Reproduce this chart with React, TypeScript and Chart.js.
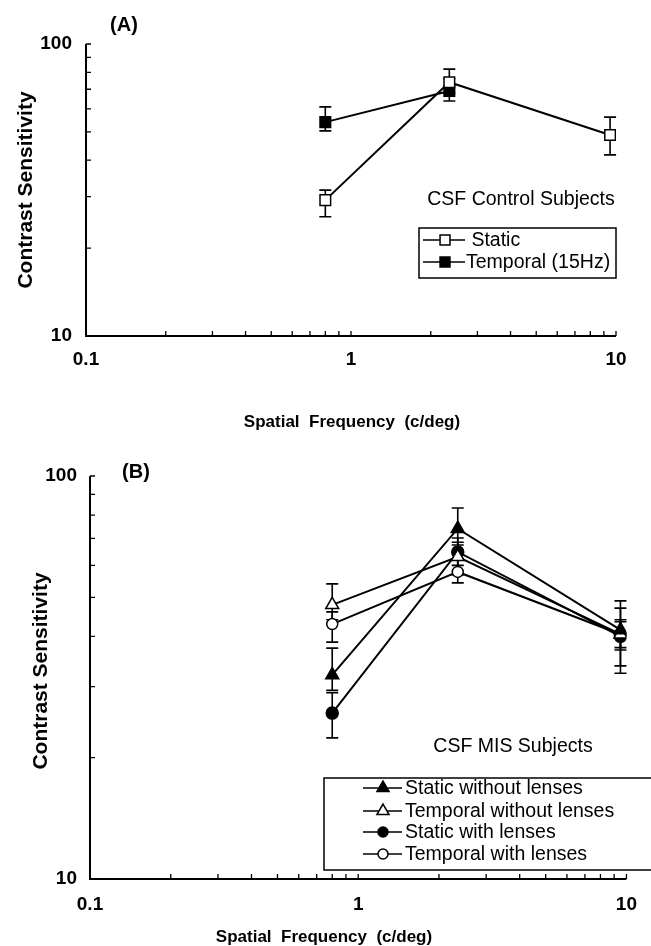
import React, { useEffect, useRef } from 'react';
import { Chart, registerables } from 'chart.js';

Chart.register(...registerables);

// ---------- data ----------
const X_TICKS = [0.1, 0.2, 0.3, 0.4, 0.5, 0.6, 0.7, 0.8, 0.9, 1, 2, 3, 4, 5, 6, 7, 8, 9, 10];
const Y_TICKS = [10, 20, 30, 40, 50, 60, 70, 80, 90, 100];
const X_TICK_VALUES = [0.1, 1, 10];
const X_TICK_LABELS = ['0.1', '1', '10'];
const Y_TICK_VALUES = [10, 100];
const Y_TICK_LABELS = ['10', '100'];

// Panel A – control subjects
const A_STATIC_FREQ = [0.8, 2.35, 9.5];
const A_STATIC_CS = [29.2, 74, 48.8];
const A_STATIC_LO = [25.6, 68, 41.7];
const A_STATIC_HI = [31.6, 82, 56.2];

const A_TEMPORAL_FREQ = [0.8, 2.35];
const A_TEMPORAL_CS = [54, 69];
const A_TEMPORAL_LO = [50.4, 63.8];
const A_TEMPORAL_HI = [60.9, 76];

// Panel B – MIS subjects
const B_FREQ = [0.8, 2.35, 9.5];
const B_STATIC_NO_CS = [32.1, 74, 41.5];
const B_STATIC_NO_LO = [29.4, 67.4, 33.8];
const B_STATIC_NO_HI = [37.4, 83.3, 49];
const B_TEMPORAL_NO_CS = [47.9, 63, 40.5];
const B_TEMPORAL_NO_LO = [44, 56.8, 37];
const B_TEMPORAL_NO_HI = [54, 68.5, 44];
const B_STATIC_WITH_CS = [25.8, 64.8, 40];
const B_STATIC_WITH_LO = [22.4, 60, 32.4];
const B_STATIC_WITH_HI = [29, 70.2, 47];
const B_TEMPORAL_WITH_CS = [42.9, 57.8, 40.5];
const B_TEMPORAL_WITH_LO = [38.7, 54.3, 37.5];
const B_TEMPORAL_WITH_HI = [46, 61.9, 43.5];

const A_LABELS = ['Static', 'Temporal (15Hz)'];
const B_LABELS = ['Static without lenses', 'Temporal without lenses', 'Static with lenses', 'Temporal with lenses'];

// ---------- styling ----------
const FONT = '"Liberation Sans", Arial, Helvetica, sans-serif';
const W = 651;

type Series = {
  label: string;
  x: number[];
  y: number[];
  lo: number[];
  hi: number[];
  style: 'rect' | 'triangle' | 'circle';
  filled: boolean;
  radius: number;
  legendPrefix?: string;
};

type Layout = {
  top: number;
  height: number;
  area: { left: number; top: number; right: number; bottom: number };
  panelLabel: string;
  panelLabelPos: [number, number];
  yTitlePos: [number, number];
  xTitlePos: [number, number];
  note: string;
  notePos: [number, number];
  legendBox: [number, number, number, number];
  legendRows: number[];
  legendLine: [number, number];
  legendMarkerX: number;
  legendTextX: number;
  xLabelPad: number;
  yLabelPad: number;
};

const seriesA: Series[] = [
  { label: A_LABELS[0], x: A_STATIC_FREQ, y: A_STATIC_CS, lo: A_STATIC_LO, hi: A_STATIC_HI, style: 'rect', filled: false, radius: 7.5, legendPrefix: ' ' },
  { label: A_LABELS[1], x: A_TEMPORAL_FREQ, y: A_TEMPORAL_CS, lo: A_TEMPORAL_LO, hi: A_TEMPORAL_HI, style: 'rect', filled: true, radius: 7.5 },
];

const seriesB: Series[] = [
  { label: B_LABELS[0], x: B_FREQ, y: B_STATIC_NO_CS, lo: B_STATIC_NO_LO, hi: B_STATIC_NO_HI, style: 'triangle', filled: true, radius: 7.5 },
  { label: B_LABELS[1], x: B_FREQ, y: B_TEMPORAL_NO_CS, lo: B_TEMPORAL_NO_LO, hi: B_TEMPORAL_NO_HI, style: 'triangle', filled: false, radius: 7.5 },
  { label: B_LABELS[2], x: B_FREQ, y: B_STATIC_WITH_CS, lo: B_STATIC_WITH_LO, hi: B_STATIC_WITH_HI, style: 'circle', filled: true, radius: 6 },
  { label: B_LABELS[3], x: B_FREQ, y: B_TEMPORAL_WITH_CS, lo: B_TEMPORAL_WITH_LO, hi: B_TEMPORAL_WITH_HI, style: 'circle', filled: false, radius: 5.5 },
];

const layoutA: Layout = {
  top: 0,
  height: 440,
  area: { left: 86, top: 44, right: 616, bottom: 336 },
  panelLabel: '(A)',
  panelLabelPos: [124, 25],
  yTitlePos: [26, 190],
  xTitlePos: [352, 422],
  note: 'CSF Control Subjects',
  notePos: [521, 200],
  legendBox: [419, 228, 197, 50],
  legendRows: [240, 262],
  legendLine: [423, 465],
  legendMarkerX: 445,
  legendTextX: 466,
  xLabelPad: 12,
  yLabelPad: 14,
};

const layoutB: Layout = {
  top: 440,
  height: 506,
  area: { left: 90, top: 36, right: 632, bottom: 439 },
  panelLabel: '(B)',
  panelLabelPos: [136, 32],
  yTitlePos: [41, 231],
  xTitlePos: [324, 497],
  note: 'CSF MIS Subjects',
  notePos: [513, 307],
  legendBox: [324, 338, 340, 92],
  legendRows: [348, 371, 392, 414],
  legendLine: [363, 402],
  legendMarkerX: 383,
  legendTextX: 405,
  xLabelPad: 14,
  yLabelPad: 13,
};

function labelFor(v: number, values: number[], labels: string[]) {
  for (let i = 0; i < values.length; i++) {
    if (Math.abs(Math.log10(v) - Math.log10(values[i])) < 1e-6) return labels[i];
  }
  return '';
}

function drawMarker(ctx: CanvasRenderingContext2D, style: string, x: number, y: number, r: number, filled: boolean) {
  ctx.save();
  ctx.beginPath();
  if (style === 'rect') {
    const s = Math.SQRT1_2 * r;
    ctx.rect(x - s, y - s, 2 * s, 2 * s);
  } else if (style === 'triangle') {
    let rad = 0;
    ctx.moveTo(x + Math.sin(rad) * r, y - Math.cos(rad) * r);
    rad += (2 * Math.PI) / 3;
    ctx.lineTo(x + Math.sin(rad) * r, y - Math.cos(rad) * r);
    rad += (2 * Math.PI) / 3;
    ctx.lineTo(x + Math.sin(rad) * r, y - Math.cos(rad) * r);
    ctx.closePath();
  } else {
    ctx.arc(x, y, r, 0, Math.PI * 2);
  }
  ctx.fillStyle = filled ? '#000' : '#fff';
  ctx.fill();
  ctx.lineWidth = 1.5;
  ctx.strokeStyle = '#000';
  ctx.stroke();
  ctx.restore();
}

function makePlugin(layout: Layout, series: Series[]) {
  return {
    id: 'panelDecor',
    beforeDatasetsDraw(chart: any) {
      const ctx: CanvasRenderingContext2D = chart.ctx;
      const xs = chart.scales.x;
      const ys = chart.scales.y;
      const { left, right, top, bottom } = chart.chartArea;
      ctx.save();
      ctx.strokeStyle = '#000';
      // axes
      ctx.lineWidth = 2;
      ctx.beginPath();
      ctx.moveTo(left, top);
      ctx.lineTo(left, bottom);
      ctx.lineTo(right, bottom);
      ctx.stroke();
      // tick marks (inward)
      ctx.lineWidth = 1.3;
      ctx.beginPath();
      xs.ticks.forEach((t: any) => {
        const px = xs.getPixelForValue(t.value);
        ctx.moveTo(px, bottom);
        ctx.lineTo(px, bottom - 5);
      });
      ys.ticks.forEach((t: any) => {
        const py = ys.getPixelForValue(t.value);
        ctx.moveTo(left, py);
        ctx.lineTo(left + 5, py);
      });
      ctx.stroke();
      // error bars
      ctx.lineWidth = 1.6;
      series.forEach((s) => {
        s.x.forEach((xv, i) => {
          const px = xs.getPixelForValue(xv);
          const pl = ys.getPixelForValue(s.lo[i]);
          const ph = ys.getPixelForValue(s.hi[i]);
          ctx.beginPath();
          ctx.moveTo(px, pl);
          ctx.lineTo(px, ph);
          ctx.moveTo(px - 6, pl);
          ctx.lineTo(px + 6, pl);
          ctx.moveTo(px - 6, ph);
          ctx.lineTo(px + 6, ph);
          ctx.stroke();
        });
      });
      ctx.restore();
    },
    afterDraw(chart: any) {
      const ctx: CanvasRenderingContext2D = chart.ctx;
      ctx.save();
      ctx.fillStyle = '#000';
      ctx.textBaseline = 'middle';
      // panel label
      ctx.font = `bold 20px ${FONT}`;
      ctx.textAlign = 'center';
      ctx.fillText(layout.panelLabel, layout.panelLabelPos[0], layout.panelLabelPos[1]);
      // x title
      ctx.font = `bold 17px ${FONT}`;
      ctx.fillText('Spatial  Frequency  (c/deg)', layout.xTitlePos[0], layout.xTitlePos[1]);
      // y title
      ctx.save();
      ctx.translate(layout.yTitlePos[0], layout.yTitlePos[1]);
      ctx.rotate(-Math.PI / 2);
      ctx.font = `bold 21px ${FONT}`;
      ctx.fillText('Contrast Sensitivity', 0, 0);
      ctx.restore();
      // note
      ctx.font = `19.5px ${FONT}`;
      ctx.fillText(layout.note, layout.notePos[0], layout.notePos[1]);
      // legend
      const [bx, by, bw, bh] = layout.legendBox;
      ctx.lineWidth = 1.5;
      ctx.strokeStyle = '#000';
      ctx.strokeRect(bx, by, bw, bh);
      ctx.textAlign = 'left';
      series.forEach((s, i) => {
        const ry = layout.legendRows[i];
        ctx.beginPath();
        ctx.lineWidth = 1.5;
        ctx.moveTo(layout.legendLine[0], ry);
        ctx.lineTo(layout.legendLine[1], ry);
        ctx.stroke();
        drawMarker(ctx, s.style, layout.legendMarkerX, ry, s.style === 'circle' ? 5 : 7, s.filled);
        ctx.fillStyle = '#000';
        ctx.font = `19.5px ${FONT}`;
        ctx.fillText((s.legendPrefix || '') + s.label, layout.legendTextX, ry + 1);
      });
      ctx.restore();
    },
  };
}

function Panel({ layout, series }: { layout: Layout; series: Series[] }) {
  const ref = useRef<HTMLCanvasElement | null>(null);
  useEffect(() => {
    if (!ref.current) return;
    const H = layout.height;
    const area = layout.area;
    const tickFont = { family: FONT, size: 19, weight: 'bold' as const };
    const chart = new Chart(ref.current, {
      type: 'scatter',
      data: {
        datasets: series.map((s) => ({
          label: s.label,
          data: s.x.map((xv, i) => ({ x: xv, y: s.y[i] })),
          showLine: true,
          borderColor: '#000',
          borderWidth: 2,
          pointStyle: s.style,
          pointRadius: s.radius,
          pointHoverRadius: s.radius,
          pointBackgroundColor: s.filled ? '#000' : '#fff',
          pointBorderColor: '#000',
          pointBorderWidth: 1.5,
          tension: 0,
        })),
      },
      options: {
        responsive: false,
        animation: false,
        events: [],
        layout: { padding: { left: 0, top: area.top, right: W - area.right, bottom: 0 } },
        plugins: { legend: { display: false }, tooltip: { enabled: false }, title: { display: false } },
        scales: {
          x: {
            type: 'logarithmic',
            min: 0.1,
            max: 10,
            grid: { display: false, drawTicks: false },
            border: { display: false },
            ticks: {
              autoSkip: false,
              maxRotation: 0,
              minRotation: 0,
              padding: layout.xLabelPad,
              color: '#000',
              font: tickFont,
              callback: (v: any) => labelFor(Number(v), X_TICK_VALUES, X_TICK_LABELS),
            },
            afterBuildTicks: (s: any) => {
              s.ticks = X_TICKS.map((v) => ({ value: v }));
            },
            afterFit: (s: any) => {
              s.height = H - area.bottom;
            },
          },
          y: {
            type: 'logarithmic',
            min: 10,
            max: 100,
            grid: { display: false, drawTicks: false },
            border: { display: false },
            ticks: {
              autoSkip: false,
              padding: layout.yLabelPad,
              color: '#000',
              font: tickFont,
              callback: (v: any) => labelFor(Number(v), Y_TICK_VALUES, Y_TICK_LABELS),
            },
            afterBuildTicks: (s: any) => {
              s.ticks = Y_TICKS.map((v) => ({ value: v }));
            },
            afterFit: (s: any) => {
              s.width = area.left;
            },
          },
        },
      } as any,
      plugins: [makePlugin(layout, series)],
    });
    return () => chart.destroy();
  }, [layout, series]);
  return (
    <canvas
      ref={ref}
      width={W}
      height={layout.height}
      style={{ position: 'absolute', left: 0, top: layout.top, width: W, height: layout.height }}
    />
  );
}

export default function App() {
  return (
    <div style={{ position: 'absolute', left: 0, top: 0, width: W, height: 946, background: '#fff', overflow: 'hidden' }}>
      <Panel layout={layoutA} series={seriesA} />
      <Panel layout={layoutB} series={seriesB} />
    </div>
  );
}
